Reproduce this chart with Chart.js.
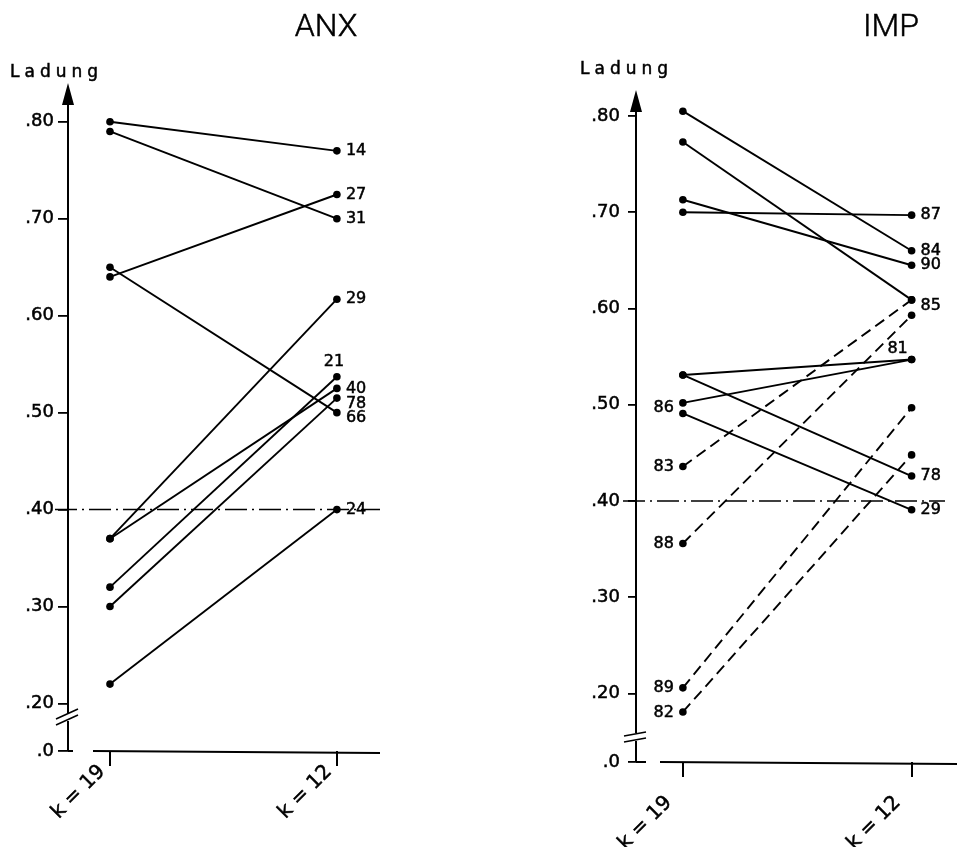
<!DOCTYPE html>
<html>
<head>
<meta charset="utf-8">
<script src="https://cdn.jsdelivr.net/npm/chart.js@4.4.0/dist/chart.umd.min.js"></script>
<style>
  body { margin: 0; background: #fff; }
  #wrap { position: relative; width: 957px; height: 847px; }
  canvas { position: absolute; top: 0; }
</style>
</head>
<body>
<div id="wrap">
  <canvas id="anx" width="478" height="847" style="left:0"></canvas>
  <canvas id="imp" width="479" height="847" style="left:478px"></canvas>
</div>
<script>
// x categories and y ticks
const kLabels = ['k = 19', 'k = 12'];
const tickVals = [0.20, 0.30, 0.40, 0.50, 0.60, 0.70, 0.80];
const cutLine = 0.40;

// ANX items: loading at k=19 and at k=12
const anxNames = ['14', '31', '27', '66', '29', '40', '21', '78', '24'];
const anxK19   = [0.80, 0.79, 0.64, 0.65, 0.37, 0.37, 0.32, 0.30, 0.22];
const anxK12   = [0.77, 0.70, 0.725, 0.50, 0.617, 0.525, 0.537, 0.515, 0.40];
const anxLabelSide = ['r', 'r', 'r', 'r', 'r', 'r', 'up', 'r', 'r'];
const anxLabelDy   = [0, 0, 0, 5, 0, 0, 0, 6, 0];

// IMP items
const impNames = ['84', '85', '90', '87', '81', '86', '78', '29', '83', '88', '89', '82'];
const impK19   = [0.805, 0.773, 0.713, 0.70, 0.531, 0.502, 0.531, 0.491, 0.436, 0.356, 0.206, 0.181];
const impK12   = [0.66, 0.609, 0.645, 0.697, 0.547, 0.547, 0.426, 0.391, 0.609, 0.593, 0.497, 0.448];
const impDashed = [false, false, false, false, false, false, false, false, true, true, true, true];
const impLabelSide = ['r', 'r', 'r', 'r', 'ul', 'l', 'r', 'r', 'l', 'l', 'l', 'l'];
const impLabelDy   = [0, 6, 0, 0, 0, 5, 0, 0, 0, 0, 0, 1];

function inkText(ctx, txt, x, y) {
    ctx.fillText(txt, x, y);
    ctx.strokeText(txt, x, y);
}

const panelDeco = {
    id: 'panelDeco',
    afterDatasetsDraw(chart, args, o) {
        const ctx = chart.ctx, a = chart.chartArea;
        const y = chart.scales.y;
        ctx.save();
        ctx.strokeStyle = '#000';
        ctx.fillStyle = '#000';
        ctx.lineWidth = 2;

        // y axis with break
        const yb = y.getPixelForValue(o.breakAt);
        ctx.beginPath();
        ctx.moveTo(a.left, a.top + 15); ctx.lineTo(a.left, yb - 4);
        ctx.moveTo(a.left, yb + 4); ctx.lineTo(a.left, a.bottom);
        ctx.stroke();
        ctx.beginPath();
        ctx.moveTo(a.left, a.top);
        ctx.lineTo(a.left - 6, a.top + 22);
        ctx.lineTo(a.left + 6, a.top + 22);
        ctx.closePath();
        ctx.fill();
        ctx.lineWidth = 1.6;
        ctx.beginPath();
        ctx.moveTo(a.left - 12, yb - 3 + o.tilt); ctx.lineTo(a.left + 10, yb - 3 - o.tilt);
        ctx.moveTo(a.left - 12, yb + 3 + o.tilt); ctx.lineTo(a.left + 10, yb + 3 - o.tilt);
        ctx.stroke();
        ctx.lineWidth = 2;
        ctx.beginPath();
        ctx.moveTo(a.left, a.bottom); ctx.lineTo(a.left + o.zeroTick, a.bottom);
        ctx.stroke();

        // x axis (starts after a gap)
        ctx.beginPath();
        ctx.moveTo(a.left + o.xGap, a.bottom);
        ctx.lineTo(chart.width - o.xEnd, a.bottom + 2);
        ctx.stroke();

        // dash-dot line at .40
        const yc = y.getPixelForValue(cutLine);
        ctx.lineWidth = 1.5;
        ctx.setLineDash([22, 5, 2, 5]);
        ctx.beginPath();
        ctx.moveTo(a.left - 13, yc); ctx.lineTo(a.right, yc);
        ctx.stroke();
        ctx.setLineDash([]);

        // title and axis name
        ctx.lineWidth = 0.5;
        ctx.font = '300 32px Roboto';
        ctx.textAlign = 'center';
        ctx.textBaseline = 'alphabetic';
        inkText(ctx, o.title, o.titleX, 36);
        ctx.font = '17px "DejaVu Sans"';
        ctx.textAlign = 'left';
        ctx.letterSpacing = '5px';
        inkText(ctx, 'Ladung', o.ladungX, o.ladungY);
        ctx.letterSpacing = '0px';

        // item numbers
        ctx.font = '16px "DejaVu Sans"';
        ctx.textBaseline = 'middle';
        chart.data.datasets.forEach((ds, i) => {
            const meta = chart.getDatasetMeta(i);
            const p0 = meta.data[0], p1 = meta.data[1];
            const side = o.sides[i], dy = o.dys[i];
            if (side === 'r') {
                ctx.textAlign = 'left';
                inkText(ctx, ds.label, p1.x + 9, p1.y + dy);
            } else if (side === 'up') {
                ctx.textAlign = 'center';
                inkText(ctx, ds.label, p1.x - 3, p1.y - 15 + dy);
            } else if (side === 'ul') {
                ctx.textAlign = 'center';
                inkText(ctx, ds.label, p1.x - 14, p1.y - 11 + dy);
            } else {
                ctx.textAlign = 'right';
                inkText(ctx, ds.label, p0.x - 9, p0.y + dy);
            }
        });
        ctx.restore();
    }
};

function makePanel(canvasId, names, k19, k12, dashed, p) {
    const datasets = names.map(function(name, i) {
        return {
            label: name,
            data: [{x: 0, y: k19[i]}, {x: 1, y: k12[i]}],
            borderColor: '#000',
            backgroundColor: '#000',
            borderWidth: 1.9,
            borderDash: dashed && dashed[i] ? [11, 6] : [],
            pointRadius: 3.8,
            pointBackgroundColor: '#000',
            pointBorderWidth: 0,
            tension: 0,
            clip: false
        };
    });
    return new Chart(document.getElementById(canvasId), {
        type: 'line',
        data: {datasets: datasets},
        plugins: [panelDeco],
        options: {
            responsive: false,
            animation: false,
            devicePixelRatio: 1,
            layout: {padding: {left: 0, right: p.padRight, top: p.padTop, bottom: 0}},
            plugins: {
                legend: {display: false},
                tooltip: {enabled: false},
                panelDeco: p
            },
            scales: {
                x: {
                    type: 'linear',
                    min: p.xMin,
                    max: p.xMax,
                    afterBuildTicks: function(s) { s.ticks = [{value: 0}, {value: 1}]; },
                    afterFit: function(s) { s.height = p.xHeight; },
                    border: {display: false},
                    grid: {drawOnChartArea: false, drawTicks: true, tickLength: 15, color: '#000', lineWidth: 2},
                    ticks: {
                        autoSkip: false,
                        minRotation: 45,
                        maxRotation: 45,
                        padding: p.xPad,
                        labelOffset: p.xShift,
                        color: '#000',
                        textStrokeColor: '#000',
                        textStrokeWidth: 0.5,
                        font: {family: 'DejaVu Sans', size: 20},
                        callback: function(v, i) { return kLabels[i]; }
                    }
                },
                y: {
                    min: p.yMin,
                    max: p.yMax,
                    afterBuildTicks: function(s) {
                        s.ticks = [{value: p.yMin}].concat(tickVals.map(function(v) { return {value: v}; }));
                    },
                    afterFit: function(s) { s.width = p.yWidth; },
                    border: {display: false},
                    grid: {drawOnChartArea: false, drawTicks: true, tickLength: p.tickLen, color: '#000', lineWidth: 1.8},
                    ticks: {
                        padding: p.yPad,
                        color: '#000',
                        textStrokeColor: '#000',
                        textStrokeWidth: 0.5,
                        font: {family: 'DejaVu Sans', size: 18},
                        callback: function(v) {
                            return v === p.yMin ? '.0' : '.' + Math.round(v * 100);
                        }
                    }
                }
            }
        }
    });
}

makePanel('anx', anxNames, anxK19, anxK12, null, {
    title: 'ANX', titleX: 326, ladungX: 10, ladungY: 77,
    sides: anxLabelSide, dys: anxLabelDy,
    xMin: -0.185, xMax: 1.19, yMin: 0.151, yMax: 0.84,
    padTop: 83, padRight: 98, xHeight: 96, yWidth: 68,
    tickLen: 10, yPad: 4, xPad: -6, xShift: -8,
    breakAt: 0.186, tilt: 5, zeroTick: 5, xGap: 25, xEnd: 98
});

makePanel('imp', impNames, impK19, impK12, impDashed, {
    title: 'IMP', titleX: 413, ladungX: 102, ladungY: 74,
    sides: impLabelSide, dys: impLabelDy,
    xMin: -0.205, xMax: 1.146, yMin: 0.129, yMax: 0.827,
    padTop: 90, padRight: 12, xHeight: 85, yWidth: 158,
    tickLen: 8, yPad: 8, xPad: 14, xShift: -14,
    breakAt: 0.155, tilt: 2, zeroTick: 10, xGap: 24, xEnd: 0
});
</script>
</body>
</html>
